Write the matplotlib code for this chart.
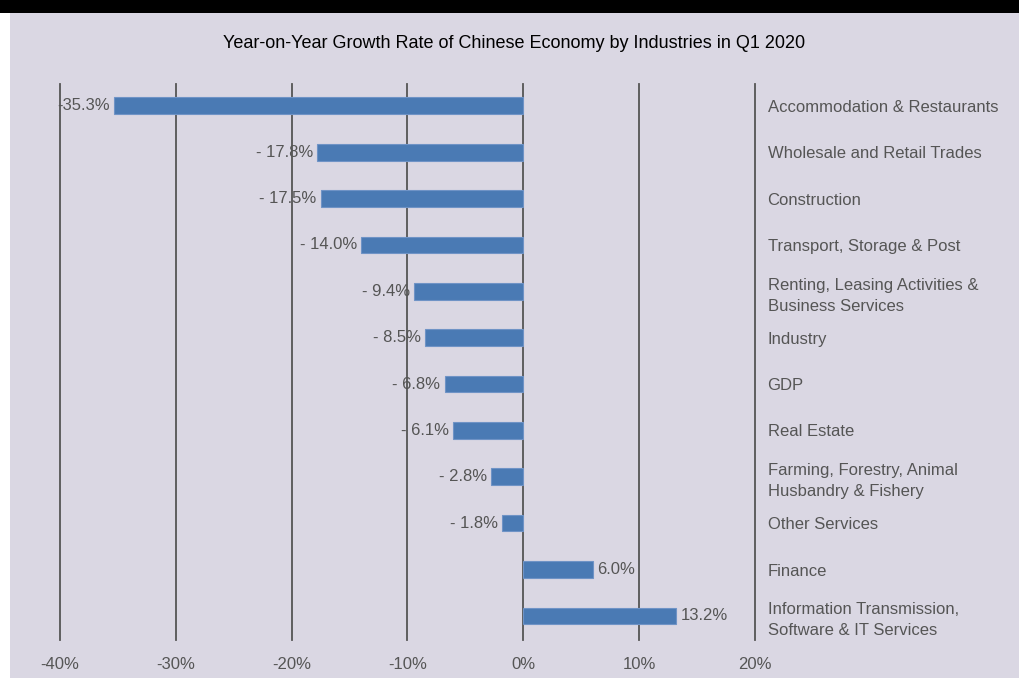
import matplotlib
matplotlib.use("Agg")
import matplotlib.pyplot as plt
from matplotlib.patches import Rectangle
from matplotlib.font_manager import fontManager

# data
industries = [
    "Accommodation & Restaurants",
    "Wholesale and Retail Trades",
    "Construction",
    "Transport, Storage & Post",
    "Renting, Leasing Activities &\nBusiness Services",
    "Industry",
    "GDP",
    "Real Estate",
    "Farming, Forestry, Animal\nHusbandry & Fishery",
    "Other Services",
    "Finance",
    "Information Transmission,\nSoftware & IT Services",
]
growth = [-35.3, -17.8, -17.5, -14.0, -9.4, -8.5, -6.8, -6.1, -2.8, -1.8, 6.0, 13.2]
xticks = [-40, -30, -20, -10, 0, 10, 20]
title = "Year-on-Year Growth Rate of Chinese Economy by Industries in Q1 2020"

names = {f.name for f in fontManager.ttflist}
fam = "Liberation Sans Narrow" if "Liberation Sans Narrow" in names else "Liberation Sans"
plt.rcParams["font.family"] = [fam, "DejaVu Sans"]

BG = "#dad7e3"
BAR = "#4a7ab4"
GREY = "#555555"
FS = 12

fig = plt.figure(figsize=(10.19, 6.78), dpi=100, facecolor="white")
W, H = 1019, 678
fig.patches.append(Rectangle((10 / W, 0), 1 - 10 / W, 1 - 13 / H, transform=fig.transFigure,
                             facecolor=BG, edgecolor="none", zorder=-10))
fig.patches.append(Rectangle((0, 1 - 13 / H), 1, 13 / H, transform=fig.transFigure,
                             facecolor="black", edgecolor="none", zorder=-10))

ax = fig.add_axes([60 / W, 1 - 640 / H, (755 - 60) / W, (640 - 84) / H])
ax.set_facecolor("none")

y = list(range(len(growth)))
ax.barh(y, growth, height=0.36, color=BAR, edgecolor="#6f93c6", linewidth=0.8, zorder=3)

for x in xticks:
    ax.axvline(x, color=GREY, lw=1.3, zorder=2, clip_on=False)

for i, v in enumerate(growth):
    if v < 0:
        lab = f"-{abs(v):.1f}%" if i == 0 else f"- {abs(v):.1f}%"
        ax.annotate(lab, xy=(v, i), xytext=(-3, 0), textcoords="offset points",
                    ha="right", va="center", fontsize=FS, color=GREY, zorder=4)
    else:
        ax.annotate(f"{v:.1f}%", xy=(v, i), xytext=(3, 0), textcoords="offset points",
                    ha="left", va="center", fontsize=FS, color=GREY, zorder=4)

ax.set_xlim(-40, 20)
ax.set_ylim(11.52, -0.47)
ax.set_xticks(xticks)
ax.set_xticklabels([f"{t}%" for t in xticks])
ax.yaxis.tick_right()
ax.set_yticks(y)
ax.set_yticklabels(industries, linespacing=1.5)
ax.tick_params(axis="x", length=0, pad=12, labelsize=FS, labelcolor=GREY)
ax.tick_params(axis="y", length=0, pad=9, labelsize=FS, labelcolor=GREY)
for s in ax.spines.values():
    s.set_visible(False)

fig.text((10 + W) / 2 / W, 1 - 44 / H, title, ha="center", va="center",
         fontsize=13, color="black")

fig.savefig("out.png", dpi=100, facecolor=fig.get_facecolor())
